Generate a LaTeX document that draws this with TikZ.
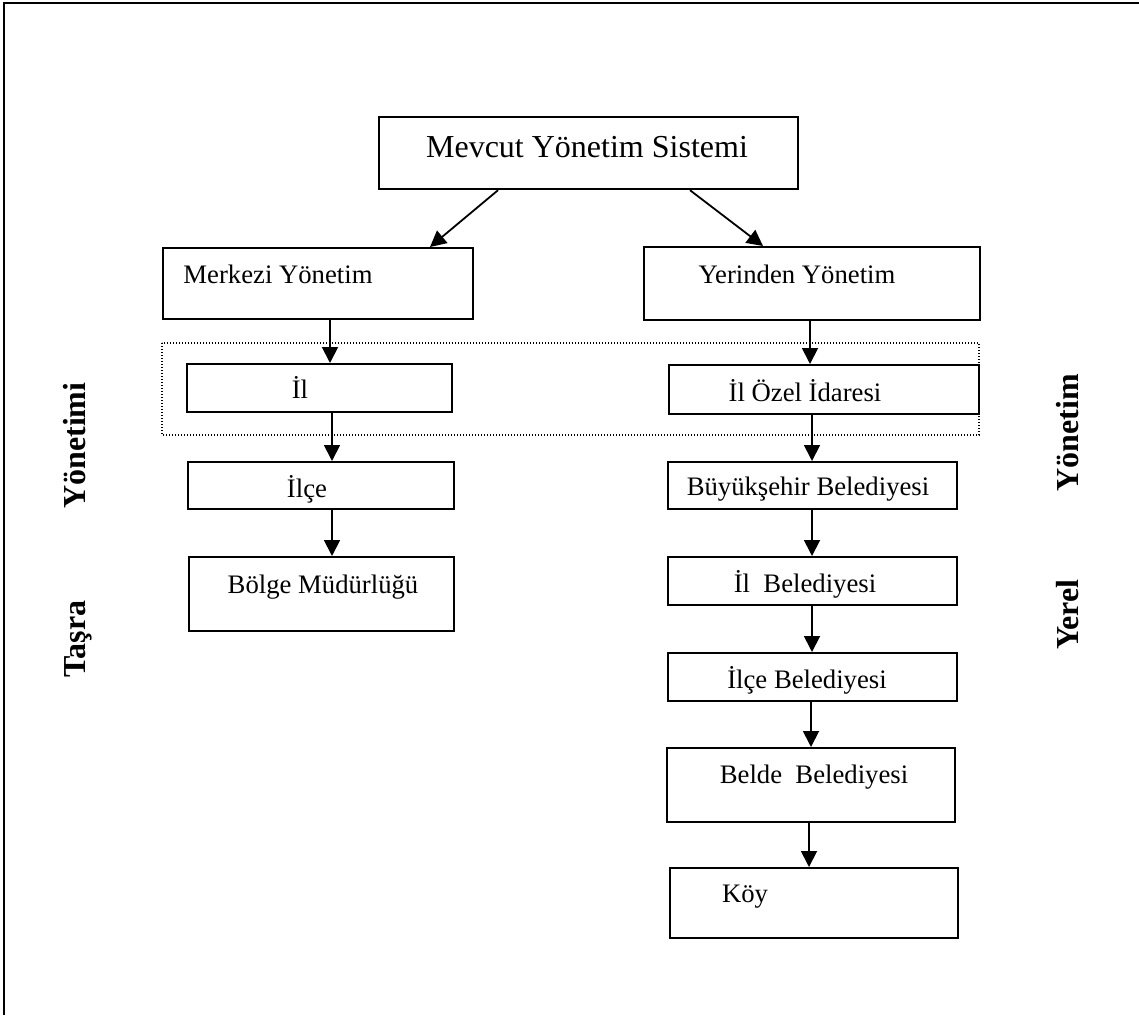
\documentclass[tikz,border=0pt]{standalone}
\usepackage{fontspec}
\setmainfont{Liberation Serif}
\usetikzlibrary{arrows.meta,calc}
\begin{document}
\begin{tikzpicture}[x=1pt,y=-1pt,
  box/.style={draw,line width=2.2pt,anchor=north west,inner sep=0pt},
  txt/.style={anchor=base,inner sep=0pt,font=\fontsize{26.7}{30}\selectfont},
  side/.style={rotate=90,anchor=base west,inner sep=0pt,font=\bfseries\fontsize{32}{36}\selectfont},
  arr/.style={line width=1.8pt,-{Triangle[length=16pt,width=16pt]}},
  group/.style={line width=1.4pt,dash pattern=on 1.3pt off 1.7pt}]
\useasboundingbox (0,0) rectangle (1139,1015);

% page frame (top and left edges)
\draw[line width=2.5pt] (4,1015) -- (4,3) -- (1139,3);

% boxes
\node[box,minimum width=419pt,minimum height=72pt] (top) at (378,116) {};
\node[box,minimum width=310pt,minimum height=71pt] (merk) at (162,247) {};
\node[box,minimum width=336pt,minimum height=73pt] (yer) at (643,246) {};
\node[box,minimum width=265pt,minimum height=48pt] (il) at (186,363) {};
\node[box,minimum width=310pt,minimum height=49pt] (ozel) at (668,364) {};
\node[box,minimum width=266pt,minimum height=47pt] (ilce) at (187,461) {};
\node[box,minimum width=265pt,minimum height=74pt] (bolge) at (188,556) {};
\node[box,minimum width=289pt,minimum height=47pt] (buyuk) at (667,461) {};
\node[box,minimum width=289pt,minimum height=48pt] (ilbel) at (667,556) {};
\node[box,minimum width=289pt,minimum height=48pt] (ilcebel) at (667,652) {};
\node[box,minimum width=288pt,minimum height=74pt] (belde) at (666,747) {};
\node[box,minimum width=288pt,minimum height=70pt] (koy) at (669,867) {};

% dotted group around the province level
\draw[group] (162,343) rectangle (979,435);

% box texts
\node[txt,font=\fontsize{32}{36}\selectfont] (ttop) at (587,157) {Mevcut Yönetim Sistemi};
\node[txt] (tmerk) at (278,283) {Merkezi Yönetim};
\node[txt] (tyer) at (797,283) {Yerinden Yönetim};
\node[txt] (til) at (300,398) {İl};
\node[txt] (tozel) at (805,401) {İl Özel İdaresi};
\node[txt] (tilce) at (307,497) {İlçe};
\node[txt] (tbolge) at (323,593) {Bölge Müdürlüğü};
\node[txt] (tbuyuk) at (808,495) {Büyükşehir Belediyesi};
\node[txt] (tilbel) at (805,592) {İl\ \ Belediyesi};
\node[txt] (tilcebel) at (807,688) {İlçe Belediyesi};
\node[txt] (tbelde) at (814,783) {Belde\ \ Belediyesi};
\node[txt] (tkoy) at (745,902) {Köy};

% side labels
\node[side] (tasra) at (85,678) {Taşra\hspace{92pt}Yönetimi};
\node[side] (yerel) at (1078,650) {Yerel\hspace{88pt}Yönetim};

% connectors
\draw[arr] ($(top.south west)+(120,0)$) -- ($(merk.north west)+(268,0)$);
\draw[arr] ($(top.south west)+(312,0)$) -- ($(yer.north west)+(120,0)$);

\draw[arr] (merk.south -| 330,0) -- (il.north -| 330,0);
\draw[arr] (il.south -| 332,0) -- (ilce.north -| 332,0);
\draw[arr] (ilce.south -| 332,0) -- (bolge.north -| 332,0);

\draw[arr] (yer.south -| 810,0) -- (ozel.north -| 810,0);
\draw[arr] (ozel.south -| 812,0) -- (buyuk.north -| 812,0);
\draw[arr] (buyuk.south -| 812,0) -- (ilbel.north -| 812,0);
\draw[arr] (ilbel.south -| 812,0) -- (ilcebel.north -| 812,0);
\draw[arr] (ilcebel.south -| 811,0) -- (belde.north -| 811,0);
\draw[arr] (belde.south -| 809,0) -- (koy.north -| 809,0);
\end{tikzpicture}
\end{document}
